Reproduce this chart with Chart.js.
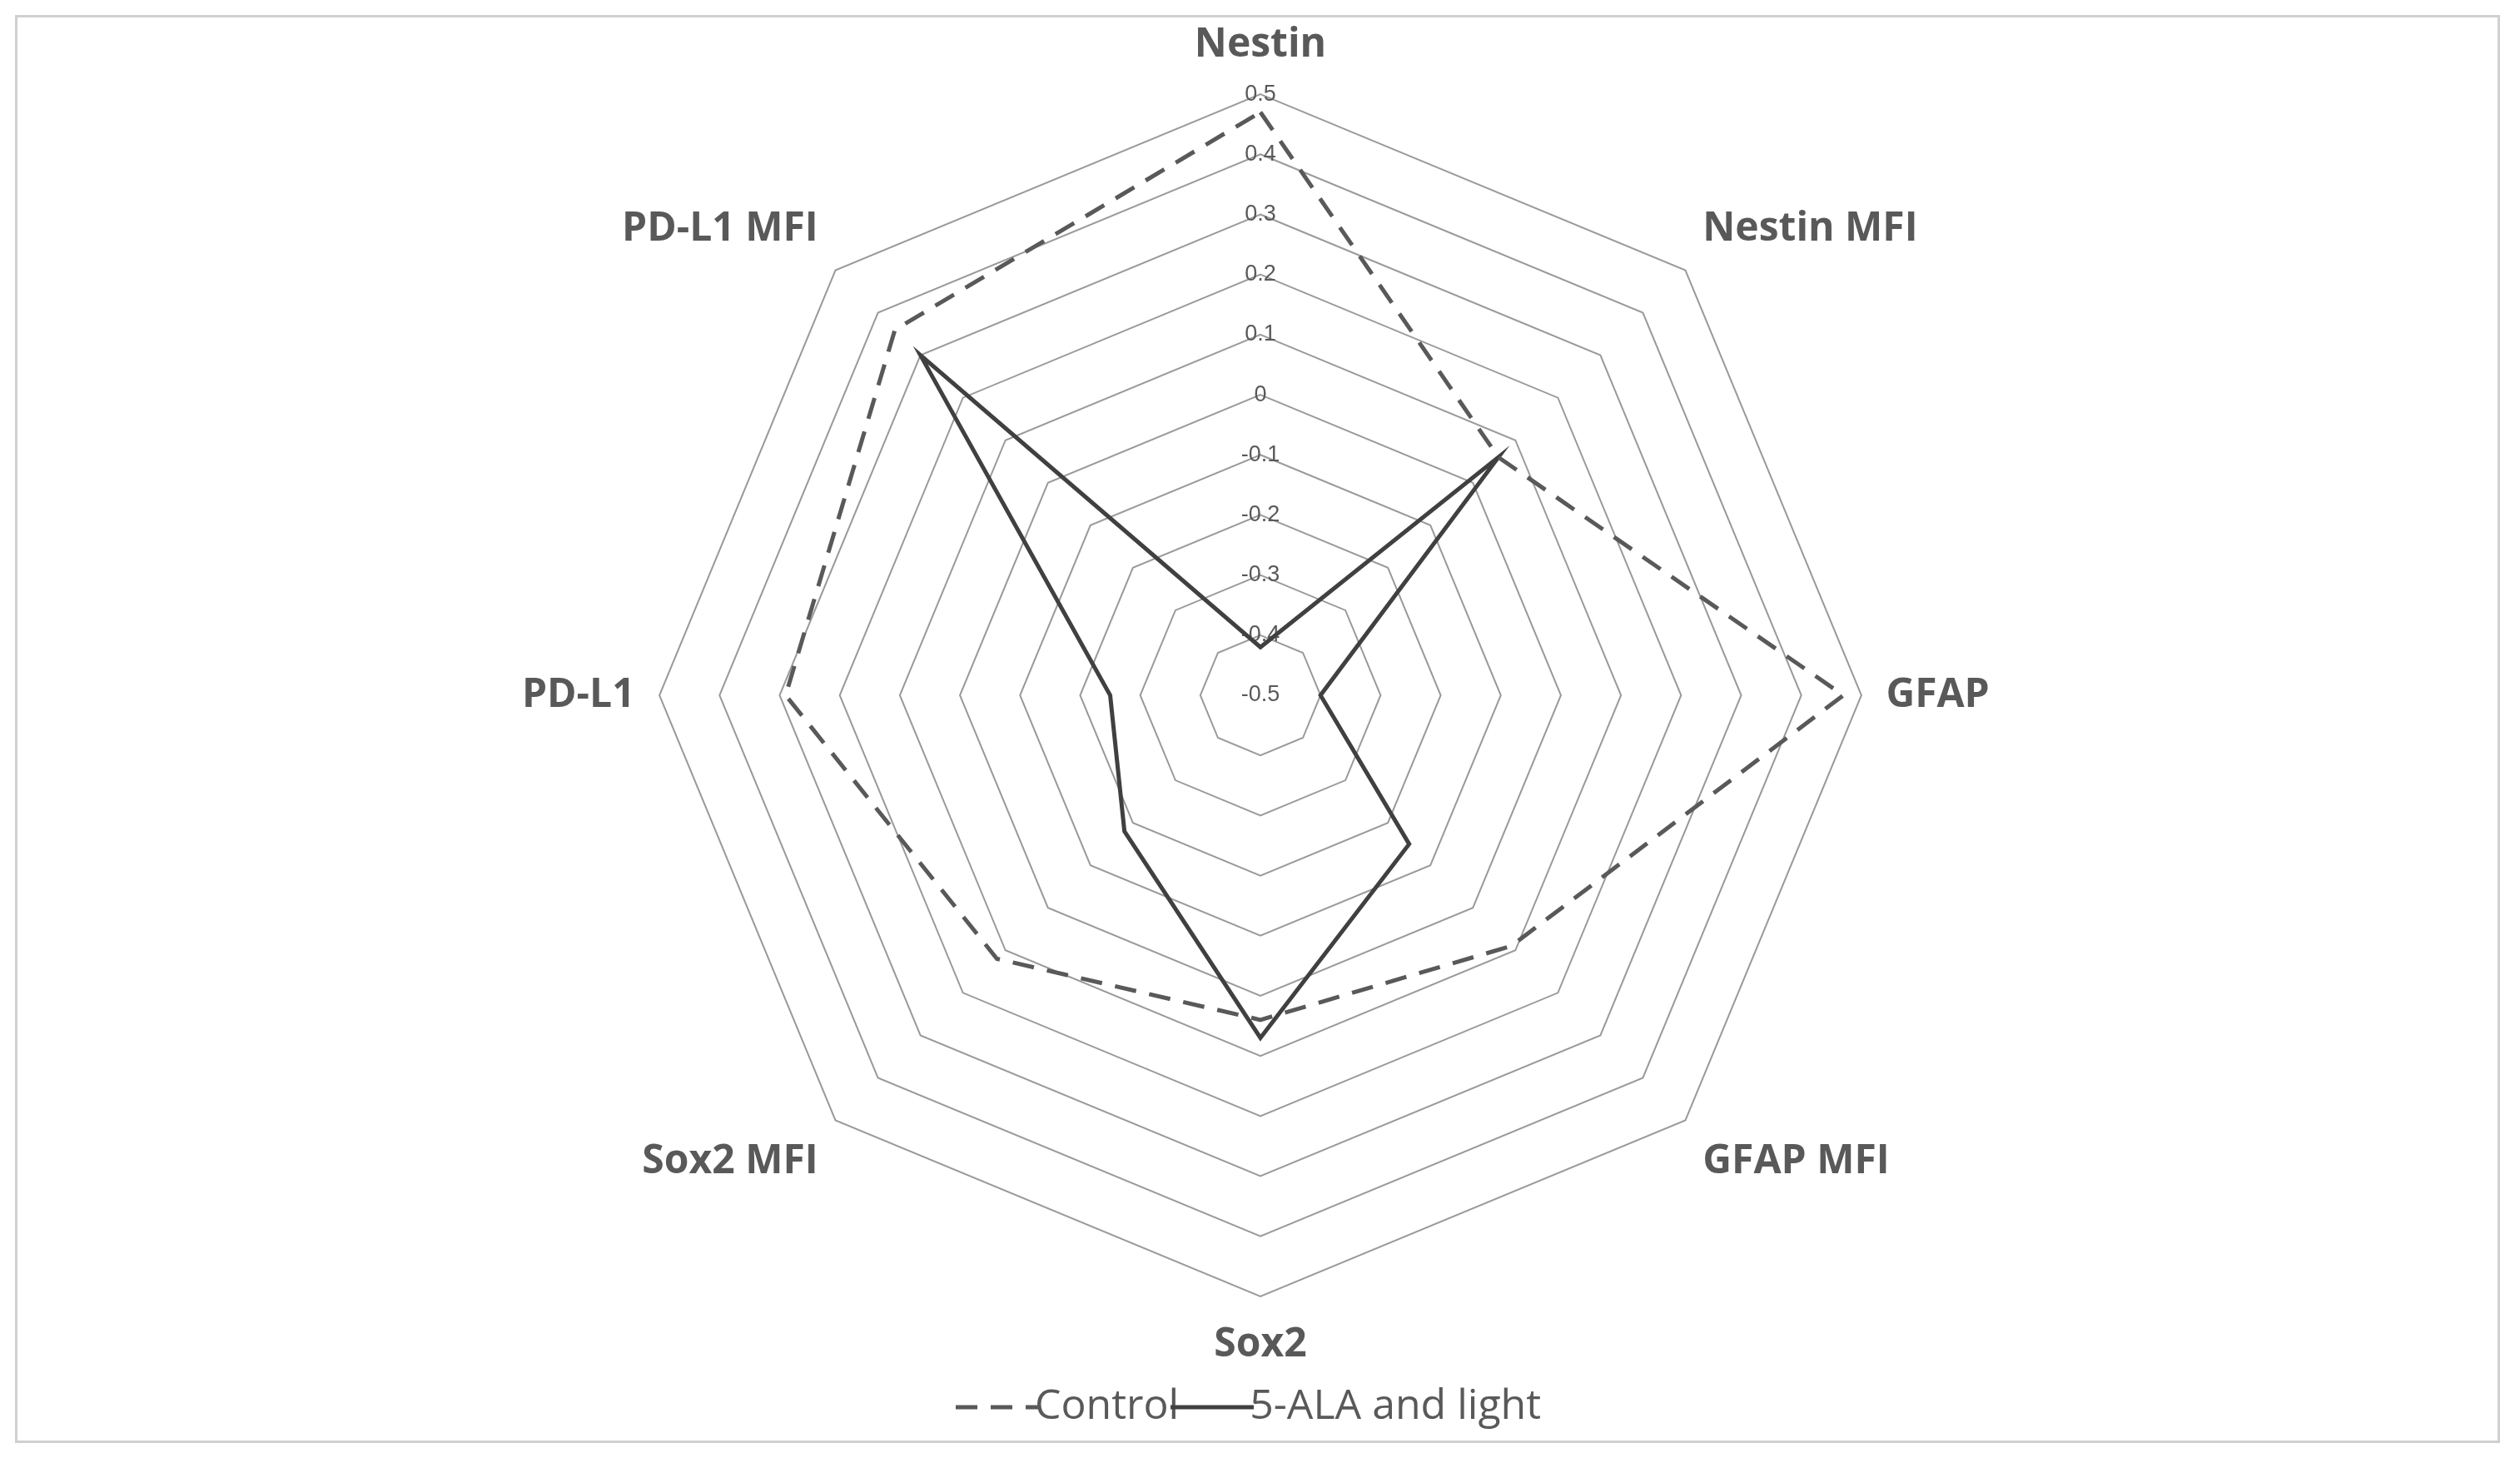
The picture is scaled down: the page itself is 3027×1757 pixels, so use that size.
<!DOCTYPE html>
<html>
<head>
<meta charset="utf-8">
<script src="https://cdn.jsdelivr.net/npm/chart.js@4"></script>
<style>
  html, body { margin: 0; padding: 0; background: #fff; }
  #wrap { position: absolute; left: 18px; top: 18px; width: 2985px; height: 1715px; border: 3px solid #d0d0d0; box-sizing: border-box; }
  canvas { display: block; }
</style>
</head>
<body>
<div id="wrap"><canvas id="myChart"></canvas></div>
<script>
const labels = [ 'Nestin', 'Nestin MFI', 'GFAP', 'GFAP MFI', 'Sox2', 'Sox2 MFI', 'PD-L1', 'PD-L1 MFI' ];
const controlData = [ 0.47, 0.06, 0.47, 0.09, 0.04, 0.12, 0.29, 0.36 ];
const alaData = [ -0.42, 0.06, -0.40, -0.15, 0.07, -0.18, -0.25, 0.30 ];

// legend swatches: short line samples
function lineSwatch( color, dash )
{
    let c = document.createElement( 'canvas' );
    c.width = 100; c.height = 10;
    let g = c.getContext( '2d' );
    g.strokeStyle = color;
    g.lineWidth = 5;
    g.setLineDash( dash );
    g.beginPath(); g.moveTo( 0, 5 ); g.lineTo( 100, 5 ); g.stroke();
    return c;
}

const ctx = document.getElementById( 'myChart' );

new Chart( ctx, {
    type: 'radar',
    data: {
        labels: labels,
        datasets: [ {
            label: 'Control',
            data: controlData,
            borderColor: '#595959',
            borderWidth: 5,
            borderDash: [ 26, 16 ],
            fill: false,
            pointRadius: 0,
            pointStyle: lineSwatch( '#595959', [ 26, 16 ] )
        },
        {
            label: '5-ALA and light',
            data: alaData,
            borderColor: '#404040',
            borderWidth: 5,
            fill: false,
            pointRadius: 0,
            pointStyle: lineSwatch( '#404040', [] )
        } ]
    },
    options: {
        responsive: true,
        maintainAspectRatio: false,
        animation: false,
        layout: { padding: { top: 5, bottom: 5, left: 8 } },
        scales: {
            r: {
                min: -0.5,
                max: 0.5,
                ticks: {
                    stepSize: 0.1,
                    color: '#595959',
                    backdropColor: 'rgba(0,0,0,0)',
                    font: { size: 27, family: 'Liberation Sans' },
                    callback: ( v ) => Math.round( v * 10 ) / 10
                },
                grid: { color: '#9a9a9a', lineWidth: 2 },
                angleLines: { display: false },
                pointLabels: {
                    color: '#595959',
                    padding: 14,
                    font: { size: 48, weight: 'bold', family: 'Open Sans' }
                }
            }
        },
        plugins: {
            legend: {
                position: 'bottom',
                labels: {
                    color: '#595959',
                    usePointStyle: true,
                    padding: 20,
                    font: { size: 50, family: 'Open Sans' }
                }
            }
        }
    }
} );
</script>
</body>
</html>
